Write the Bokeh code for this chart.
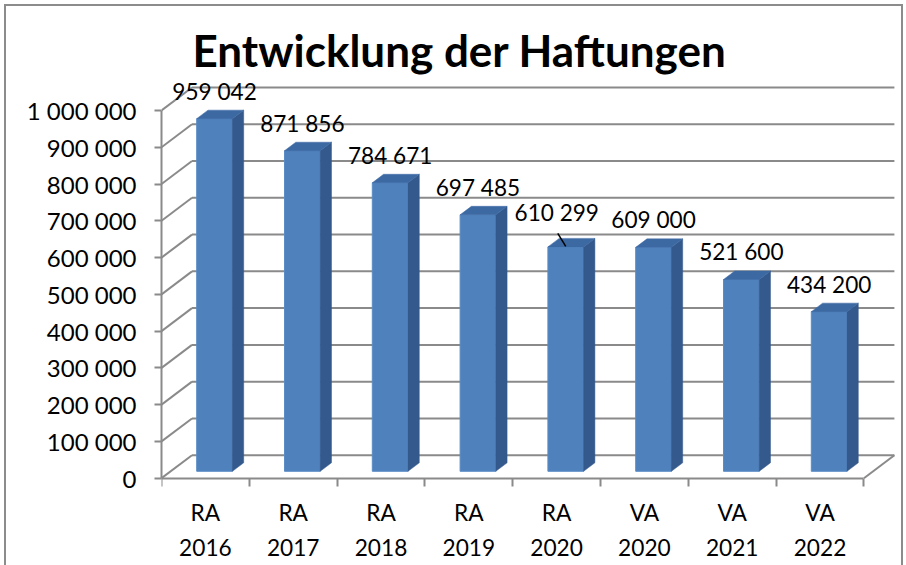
from bokeh.plotting import figure
from bokeh.models import Range1d, FixedTicker, ColumnDataSource
from bokeh.core.properties import value
from bokeh.embed import file_html
from bokeh.resources import INLINE

# ---- data ----
categories = ["RA\n2016", "RA\n2017", "RA\n2018", "RA\n2019", "RA\n2020",
              "VA\n2020", "VA\n2021", "VA\n2022"]
values = [959042, 871856, 784671, 697485, 610299, 609000, 521600, 434200]
value_labels = ["959 042", "871 856", "784 671", "697 485", "610 299",
                "609 000", "521 600", "434 200"]
y_ticks = [0, 100000, 200000, 300000, 400000, 500000, 600000, 700000,
           800000, 900000, 1000000]
y_tick_labels = ["0", "100 000", "200 000", "300 000", "400 000", "500 000",
                 "600 000", "700 000", "800 000", "900 000", "1 000 000"]
title_text = "Entwicklung der Haftungen"

# ---- geometry / style ----
W, H = 906, 565
BL, BR, BT, BB = 161, 0, 80, 0
PX_X = 87.8            # px per category
PX_Y = 367.7 / 1e6     # px per unit value
ZERO_Y = 477.7         # canvas y of value 0
frame_w = W - BL - BR
frame_h = H - BT - BB
y_start = -(H - BB - ZERO_Y) / PX_Y
y_end = y_start + frame_h / PX_Y
N = len(values)
DX = 30.5 / PX_X       # depth vector (x, category units)
DY = 23.0 / PX_Y       # depth vector (y, value units)
D0 = 0.30              # bar front depth fraction
BD = 0.37              # bar depth fraction
BW = 35.7 / PX_X       # bar width
GRID = "#8a8a8a"
FONT = "Lato"

p = figure(width=W, height=H, output_backend="svg", toolbar_location=None,
           x_range=Range1d(0, frame_w / PX_X), y_range=Range1d(y_start, y_end),
           min_border_left=BL, min_border_right=BR, min_border_top=BT,
           min_border_bottom=BB)
p.outline_line_color = None
p.grid.visible = False
p.border_fill_color = None
p.background_fill_color = None
p.styles = {"box-shadow": "inset 4px 4px 0 0 #ffffff, inset -3px 0 0 0 #ffffff, "
                          "inset 6px 6px 0 0 #8c8c8c, inset -5px 0 0 0 #8c8c8c"}

# title
p.title.text = title_text
p.title.text_font = FONT
p.title.text_font_size = "44px"
p.title.text_font_style = "bold"
p.title.text_color = "#000000"
p.title.align = "left"
p.title.offset = 31

# back wall gridlines + left wall diagonals
hx0 = [DX] * len(y_ticks)
hx1 = [N + DX] * len(y_ticks)
hy = [v + DY for v in y_ticks]
p.segment(x0=hx0, y0=hy, x1=hx1, y1=hy, line_color=GRID, line_width=2)
p.segment(x0=[0] * len(y_ticks), y0=y_ticks, x1=hx0, y1=hy, line_color=GRID, line_width=2)
# floor right edge
p.segment(x0=[N], y0=[0], x1=[N + DX], y1=[DY], line_color=GRID, line_width=2)

# bars
front_xs, front_ys, side_xs, side_ys, top_xs, top_ys = [], [], [], [], [], []
lx, ly = [], []
for i, v in enumerate(values):
    c = i + 0.5
    xl = c - BW / 2 + D0 * DX
    xr = c + BW / 2 + D0 * DX
    yb = D0 * DY
    yt = v + D0 * DY
    ox, oy = BD * DX, BD * DY
    front_xs.append([xl, xr, xr, xl]); front_ys.append([yb, yb, yt, yt])
    side_xs.append([xr, xr + ox, xr + ox, xr]); side_ys.append([yb, yb + oy, yt + oy, yt])
    top_xs.append([xl, xr, xr + ox, xl + ox]); top_ys.append([yt, yt, yt + oy, yt + oy])
    lx.append(c + D0 * DX)
    ly.append(yt + oy)

p.patches(front_xs, front_ys, fill_color="#4F81BD", line_color="#5B8CC6", line_width=1)
p.patches(side_xs, side_ys, fill_color="#34598C", line_color="#34598C", line_width=0.5)
p.patches(top_xs, top_ys, fill_color="#3D69A3", line_color="#3D69A3", line_width=0.5)

# data labels
dx_px = [0] * N
dy_px = [-19] * N
dx_px[4] = -9
dy_px[4] = -26
src = ColumnDataSource(dict(x=lx, y=ly, t=value_labels, dx=dx_px, dy=dy_px))
p.text(x="x", y="y", text="t", x_offset="dx", y_offset="dy", source=src,
       text_font=value(FONT), text_font_size="22.6px", text_color="#000000",
       text_align="center", text_baseline="alphabetic")
# leader line for the moved label
p.segment(x0=[lx[4] - 8 / PX_X], y0=[ly[4] + 5 / PX_Y], x1=[lx[4]], y1=[ly[4] - 8 / PX_Y],
          line_color="#000000", line_width=1.5)

# axes
ya = p.yaxis[0]
ya.ticker = FixedTicker(ticks=y_ticks)
ya.bounds = (0, y_ticks[-1])
ya.major_label_overrides = {t: s for t, s in zip(y_ticks, y_tick_labels)}
ya.axis_line_color = GRID
ya.axis_line_width = 2
ya.major_tick_line_color = GRID
ya.major_tick_line_width = 2
ya.major_tick_out = 7
ya.major_tick_in = 0
ya.minor_tick_line_color = None
ya.major_label_standoff = 18
ya.major_label_text_font = FONT
ya.major_label_text_font_size = "24px"
ya.major_label_text_color = "#000000"

centers = [i + 0.5 for i in range(N)]
bounds = [float(i) for i in range(N + 1)]
xa = p.xaxis[0]
xa.fixed_location = 0
xa.bounds = (0, N)
xa.ticker = FixedTicker(ticks=centers, minor_ticks=bounds)
xa.major_label_overrides = {c: s for c, s in zip(centers, categories)}
xa.axis_line_color = GRID
xa.axis_line_width = 2
xa.major_tick_line_color = None
xa.minor_tick_line_color = GRID
xa.minor_tick_line_width = 2
xa.minor_tick_out = 8
xa.minor_tick_in = 0
xa.major_label_standoff = 13
xa.major_label_text_font = FONT
xa.major_label_text_font_size = "22.7px"
xa.major_label_text_color = "#000000"
xa.major_label_text_line_height = 1.29

open("out.html", "w").write(file_html(p, INLINE))
